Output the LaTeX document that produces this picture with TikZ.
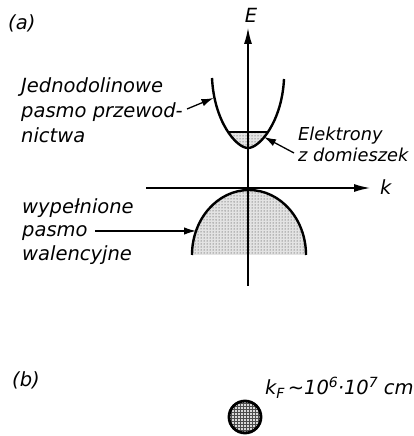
\documentclass[tikz,border=0pt]{standalone}
\usepackage{fontspec}
\newfontfamily\techfont{DejaVu Sans}
\usetikzlibrary{arrows.meta,patterns}
\newcommand{\supx}[1]{\raisebox{7.5pt}{\fontsize{14}{14}\selectfont #1}}
\newcommand{\subx}[1]{\raisebox{-4pt}{\fontsize{14}{14}\selectfont #1}}
\tikzset{
  lbl/.style={font={\techfont\itshape\fontsize{19.5}{25}\selectfont},inner sep=0pt,align=left},
  ax/.style={line width=1.3pt,-{Latex[length=16pt,width=8pt]}},
  band/.style={line width=2.4pt},
  arr/.style={line width=1.3pt,-{Latex[length=12pt,width=7.5pt]}},
  dotf/.style={preaction={fill=gray!22},pattern=dots,pattern color=black!85},
}
\begin{document}
\begin{tikzpicture}[x=1pt,y=1pt]
  \useasboundingbox (0,0) rectangle (414,436);
  \coordinate (e0) at (248,150); \coordinate (e1) at (248,408);
  \coordinate (k0) at (146,248); \coordinate (k1) at (370,248);
  % conduction band, filled bottom
  \begin{scope}
    \clip (212,358) .. controls (214,315) and (236,288) .. (248,288) .. controls (260,288) and (282,315) .. (284,357) -- cycle;
    \fill[dotf] (200,280) rectangle (300,304);
    \draw[line width=1.2pt] (200,304) -- (300,304);
  \end{scope}
  % valence band
  \fill[dotf] (192,181) arc[start angle=180,end angle=0,x radius=57,y radius=65] -- cycle;
  \draw[ax] (e0) -- (e1); \draw[ax] (k0) -- (k1);
  \draw[band] (212,358) .. controls (214,315) and (236,288) .. (248,288) .. controls (260,288) and (282,315) .. (284,357);
  \draw[band] (192,181) arc[start angle=180,end angle=0,x radius=57,y radius=65];
  \node[lbl,anchor=base west] (pa) at (8,406) {(a)};
  \node[lbl,anchor=base] (le) at (251,413) {E};
  \node[lbl,anchor=base west] (lk) at (380,241) {k};
  \node[lbl,anchor=north west] (lcb) at (21,359) {Jednodolinowe\\pasmo przewod-\\nictwa};
  \node[lbl,anchor=north west,font={\techfont\itshape\fontsize{17.8}{21}\selectfont}] (lel) at (298,309) {Elektrony\\z domieszek};
  \node[lbl,anchor=north west,font={\techfont\itshape\fontsize{19.5}{23.5}\selectfont}] (lvb) at (22,238) {wypełnione\\pasmo\\walencyjne};
  \coordinate (a1) at (187,327); \coordinate (a1t) at (213.5,338);
  \coordinate (a2) at (294,283); \coordinate (a2t) at (264,299);
  \coordinate (a3) at (95,205); \coordinate (a3t) at (196,205);
  \draw[arr] (a1) -- (a1t); \draw[arr] (a2) -- (a2t); \draw[arr] (a3) -- (a3t);
  % (b) Fermi sphere
  \node[lbl,anchor=base west] (pb) at (12,49) {(b)};
  \node[circle,draw,line width=2.8pt,minimum size=32pt,inner sep=0pt,preaction={fill=gray!30},pattern=grid,pattern color=black!70] (fs) at (245,19) {};
  \node[lbl,anchor=base west] (lkf) at (265,41) {k\subx{F}\,∼10\supx{6}·10\supx{7} cm};
\end{tikzpicture}
\end{document}
